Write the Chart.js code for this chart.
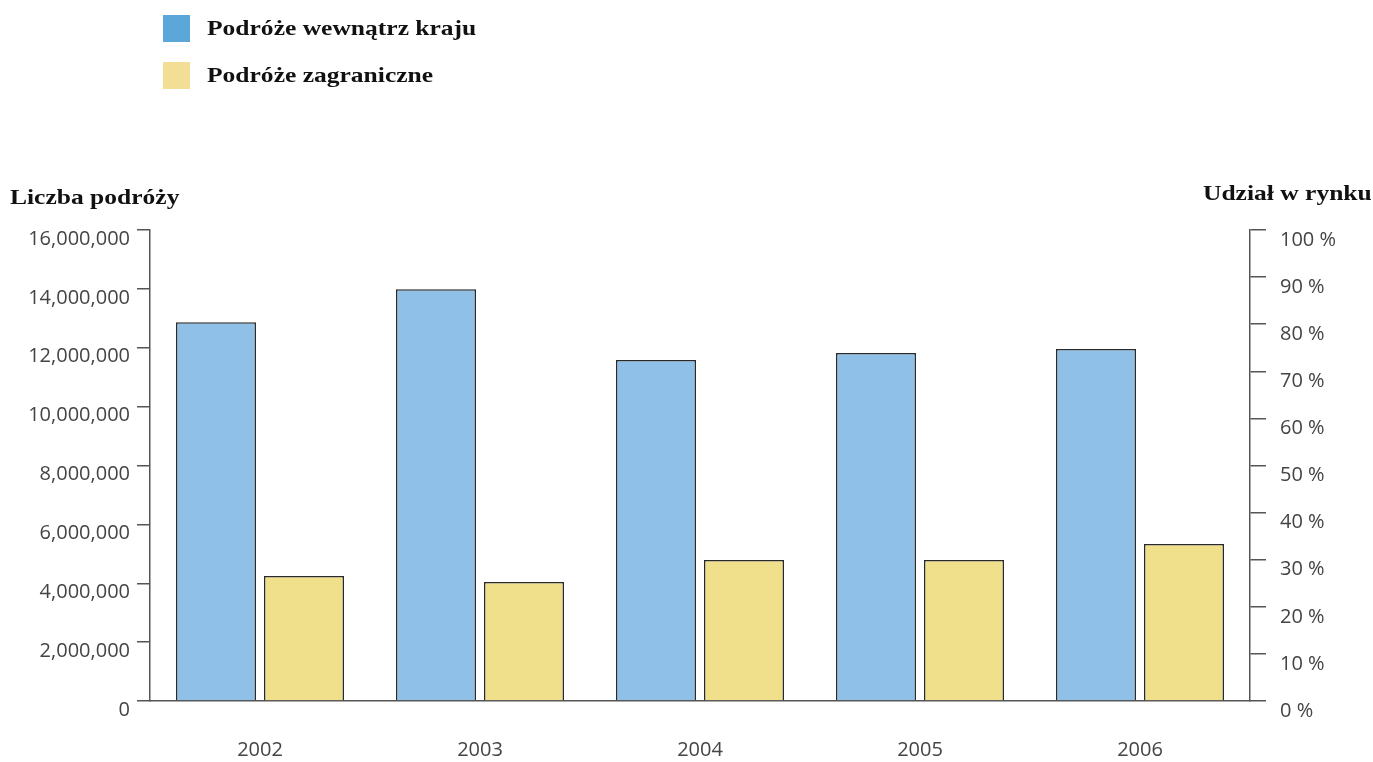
<!DOCTYPE html>
<html>
<head>
<meta charset="utf-8">
<script src="https://cdn.jsdelivr.net/npm/chart.js@4"></script>
<style>
  body { margin: 0; background: #fff; }
  #wrap { position: relative; width: 1373px; height: 762px; }
  canvas { position: absolute; left: 0; top: 0; }
  .lbl { position: absolute; font-family: "Liberation Serif", serif; font-weight: bold; font-size: 22px; color: #111; white-space: nowrap; line-height: 1; transform: scaleX(1.16); transform-origin: left center; }
  .box { position: absolute; width: 27px; height: 27px; }
</style>
</head>
<body>
<div id="wrap">
  <canvas id="chart" width="1373" height="762"></canvas>
  <div class="box" style="left:163px;top:15px;background:#5ba7da"></div>
  <div class="lbl" style="left:207px;top:17px">Podróże wewnątrz kraju</div>
  <div class="box" style="left:163px;top:62px;background:#f3de95"></div>
  <div class="lbl" style="left:207px;top:64px">Podróże zagraniczne</div>
  <div class="lbl" style="left:10px;top:186px">Liczba podróży</div>
  <div class="lbl" style="left:1203px;top:182px">Udział w rynku</div>
</div>
<script>
// dane
const years = ['2002', '2003', '2004', '2005', '2006'];
const domesticTrips = [12870000, 13990000, 11580000, 11820000, 11960000];
const foreignTrips = [4250000, 4040000, 4790000, 4790000, 5330000];
const seriesNames = ['Podróże wewnątrz kraju', 'Podróże zagraniczne'];

const tickFont = { family: '"Open Sans", sans-serif', size: 20 };
const axisColor = '#555';
const textColor = '#444';

const ctx = document.getElementById('chart').getContext('2d');
const chart = new Chart(ctx, {
    type: 'bar',
    data: {
        labels: years,
        datasets: [{
            label: seriesNames[0],
            data: domesticTrips,
            backgroundColor: '#8fc0e8',
            borderColor: '#2a2a2a',
            borderWidth: 1.5,
            yAxisID: 'y'
        }, {
            label: seriesNames[1],
            data: foreignTrips,
            backgroundColor: '#f1e08b',
            borderColor: '#2a2a2a',
            borderWidth: 1.5,
            yAxisID: 'y'
        }]
    },
    options: {
        responsive: false,
        animation: false,
        layout: { padding: { top: 230, bottom: 0, left: 0, right: 0 } },
        datasets: { bar: { categoryPercentage: 0.8, barPercentage: 0.909 } },
        plugins: {
            legend: { display: false },
            tooltip: { enabled: false }
        },
        scales: {
            x: {
                grid: { display: false, drawTicks: false },
                border: { display: true, color: axisColor, width: 1.5 },
                ticks: { font: tickFont, color: textColor, padding: 37 },
                afterFit: (s) => { s.height = 61; }
            },
            y: {
                position: 'left',
                min: 0,
                max: 16000000,
                grid: { drawOnChartArea: false, drawTicks: true, tickLength: 13, color: axisColor, lineWidth: 1.5 },
                border: { display: true, color: axisColor, width: 1.5 },
                ticks: {
                    stepSize: 2000000,
                    font: tickFont,
                    color: textColor,
                    padding: 7,
                    labelOffset: 9,
                    callback: (v) => v.toLocaleString('en-US')
                },
                afterFit: (s) => { s.width = 150; }
            },
            y1: {
                position: 'right',
                display: true,
                min: 0,
                max: 100,
                grid: { drawOnChartArea: false, drawTicks: true, tickLength: 16, color: axisColor, lineWidth: 1.5 },
                border: { display: true, color: axisColor, width: 1.5 },
                ticks: {
                    stepSize: 10,
                    font: tickFont,
                    color: textColor,
                    padding: 14,
                    labelOffset: 10,
                    callback: (v) => v + ' %'
                },
                afterFit: (s) => { s.width = 123; }
            }
        }
    }
});
</script>
</body>
</html>
